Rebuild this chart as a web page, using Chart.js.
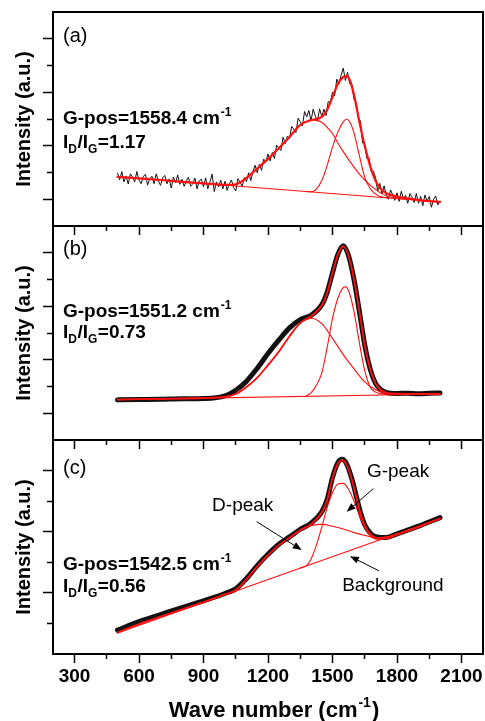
<!DOCTYPE html>
<html>
<head>
<meta charset="utf-8">
<script src="https://cdn.jsdelivr.net/npm/chart.js@4.4.1/dist/chart.umd.min.js"></script>
<style>
  body { margin: 0; background: #fff; }
  #wrap { position: relative; width: 485px; height: 721px; background: #fff; }
  #wrap canvas { position: absolute; left: 0; }
</style>
</head>
<body>
<div id="wrap">
  <canvas id="panelA" width="485" height="236" style="top:0px"></canvas>
  <canvas id="panelB" width="485" height="234" style="top:216px"></canvas>
  <canvas id="panelC" width="485" height="291" style="top:430px"></canvas>
</div>
<script>
// ---- panel (a): noisy raw spectrum, sampled every 10 cm-1 from 500 ----
var aRawStart = 500, aRawStep = 10;
var aRaw = [
  19.8,17.3,20.3,16.5,18.6,15.7,19.5,18.3,16.5,20.4,
  17.1,15.8,18.6,19.3,15.3,17.7,18.6,15.8,19.5,16.9,
  15.2,18.0,18.9,15.8,17.6,14.2,18.3,16.2,19.1,15.6,
  17.5,14.8,16.7,18.3,14.9,15.7,17.9,13.9,16.9,17.5,
  14.7,18.0,13.9,16.4,19.4,12.9,16.5,14.6,17.1,13.9,
  16.7,13.3,15.8,17.2,14.4,13.1,17.7,16.3,14.9,18.1,
  16.6,19.9,17.0,20.4,22.7,19.9,23.0,20.8,25.0,24.0,
  26.9,24.3,27.5,25.2,30.2,29.2,28.2,33.2,30.8,33.6,
  32.7,37.2,36.2,34.9,40.3,39.0,37.4,42.8,40.8,43.2,
  39.3,43.7,41.2,39.2,43.8,40.9,43.7,41.3,46.5,46.2,
  50.0,48.7,54.9,53.1,56.4,59.0,54.4,57.5,53.2,53.0,
  47.3,46.3,40.6,39.2,31.0,30.4,25.2,25.4,20.4,20.5,
  18.2,13.0,15.9,12.0,15.0,11.6,10.0,13.5,11.6,9.6,
  12.4,9.2,13.0,10.2,11.5,8.5,12.1,10.8,8.8,12.1,
  8.5,11.1,7.6,11.6,9.3,11.0,7.0,10.0,11.2,7.9,
  9.3
];
var aFitWave = [500,600,700,800,900,1000,1050,1100,1150,1200,1250,1300,1350,1400,1450,1475,1500,1525,1550,1565,1580,1600,1625,1650,1675,1700,1725,1750,1800,1850,1900,1950,2000];
var aFitVal  = [18.4,17.8,17.2,16.5,15.9,15.4,15.6,18.0,21.5,25.1,29.1,33.3,37.8,39.6,40.8,43.4,48.2,53.1,55.7,56.0,54.6,49.0,39.0,29.9,22.5,17.0,13.8,12.3,11.0,10.3,9.7,9.3,9.0];
var aDWave = [1300,1350,1375,1400,1425,1450,1475,1500,1525,1550,1575,1600,1625,1650,1675,1700,1725,1750,1800,1850];
var aDVal  = [33.3,37.8,39.0,39.6,39.5,38.8,36.9,34.6,31.0,27.8,24.8,22.0,19.4,17.2,15.3,13.7,12.3,11.3,10.4,10.0];
var aGWave = [1375,1400,1425,1450,1475,1500,1525,1550,1565,1580,1600,1625,1650,1675,1700,1725,1750];
var aGVal  = [12.9,12.8,13.8,17.0,22.6,29.5,35.1,38.9,39.9,39.0,34.8,26.3,18.2,14.0,12.0,10.9,10.6];
var aBgWave = [500,2000];
var aBgVal  = [18.4,9.0];

// ---- panel (b) ----
var bDataWave = [500,600,700,800,900,1000,1050,1100,1150,1200,1250,1300,1350,1400,1450,1475,1500,1525,1550,1575,1600,1625,1650,1675,1700,1725,1750,1800,1850,1900,1950,2000];
var bDataVal  = [15.0,15.1,15.2,15.4,15.5,16.5,18.6,22.0,26.8,32.3,37.3,41.9,45.0,46.6,50.5,55.2,62.5,69.4,72.6,68.8,60.0,48.1,35.5,26.6,21.2,18.8,17.8,17.4,17.5,17.3,17.5,17.6];
var bFitWave = [500,700,900,1000,1050,1100,1150,1200,1250,1300,1350,1400,1450,1475,1500,1525,1550,1575,1600,1625,1650,1675,1700,1725,1750,1800,1900,2000];
var bFitVal  = [15.1,15.4,15.7,16.2,17.2,19.8,23.3,28.0,33.0,38.8,43.8,46.3,50.3,55.0,62.4,69.3,72.5,68.8,60.0,48.1,35.5,26.6,21.2,18.7,17.7,17.3,17.2,17.2];
var bDWave = [1000,1050,1100,1150,1200,1250,1300,1350,1400,1450,1500,1550,1600,1650,1700,1750,1800];
var bDVal  = [16.2,17.2,19.8,23.3,28.0,33.0,38.8,43.6,45.5,43.5,38.0,31.9,26.6,21.7,18.8,17.5,17.1];
var bGWave = [1375,1400,1425,1450,1475,1500,1525,1550,1560,1575,1600,1625,1650,1675,1700,1750];
var bGVal  = [16.4,17.6,20.5,25.0,34.5,45.5,53.0,57.0,57.3,55.8,48.0,36.4,25.9,19.8,17.9,17.1];
var bBgWave = [500,2000];
var bBgVal  = [15.1,17.2];

// ---- panel (c) ----
var cDataWave = [500,600,700,800,900,1000,1050,1100,1150,1200,1250,1300,1350,1400,1450,1475,1500,1525,1545,1565,1590,1610,1630,1650,1675,1700,1750,1800,1900,2000];
var cDataVal  = [7.8,10.6,12.9,15.2,17.4,19.8,21.3,24.7,28.9,32.6,35.9,38.3,40.8,42.8,46.5,50.5,57.7,62.6,63.7,62.3,57.3,51.8,46.3,42.3,39.6,38.4,38.1,39.3,41.8,44.6];
var cFitWave = cDataWave;
var cFitVal  = [7.0,9.8,12.2,14.6,17.0,19.5,20.9,24.4,28.6,32.3,35.6,38.0,40.5,42.5,46.3,50.3,57.5,62.3,63.4,62.0,57.0,51.5,46.0,42.0,39.3,38.1,37.8,39.0,41.5,44.3];
var cDWave = [1300,1350,1400,1450,1500,1550,1600,1650,1700,1750,1800];
var cDVal  = [38.0,40.5,42.0,42.4,41.8,40.9,39.7,38.8,38.0,38.3,39.3];
var cGWave = [1350,1380,1400,1425,1450,1475,1500,1525,1550,1575,1600,1625,1650,1675,1700,1725,1750];
var cGVal  = [28.1,29.0,31.0,35.6,41.5,47.8,52.8,55.6,55.8,53.8,50.0,45.4,41.5,38.9,37.6,37.5,38.1];
var cBgWave = [500,2000];
var cBgVal  = [6.9,44.3];

var xTickLabels = [300,600,900,1200,1500,1800,2100];

var FONT = '"Liberation Sans", Arial, sans-serif';
var RED = '#ff1010';
Chart.defaults.font.family = FONT;
Chart.defaults.color = '#000';

function pts(wave, val) {
  return wave.map(function(w, i) { return {x: w, y: val[i]}; });
}
function rawPts() {
  return aRaw.map(function(v, i) { return {x: aRawStart + i * aRawStep, y: v}; });
}

// text, labels and arrows drawn on top of each panel
var notesPlugin = {
  id: 'notes',
  afterDatasetsDraw: function(chart, args, o) {
    var ctx = chart.ctx, area = chart.chartArea;
    var sx = chart.scales.x, sy = chart.scales.y;
    ctx.save();
    ctx.fillStyle = '#000';
    var x0 = area.left + 10;

    ctx.font = '20px ' + FONT;
    ctx.textBaseline = 'middle';
    ctx.fillText(o.tag, x0, area.top + o.tagY);

    ctx.textBaseline = 'alphabetic';
    var y = area.top + o.posY;
    var t = 'G-pos=' + o.gpos + ' cm';
    ctx.font = 'bold 19px ' + FONT;
    ctx.fillText(t, x0, y);
    var w = ctx.measureText(t).width;
    ctx.font = 'bold 12px ' + FONT;
    ctx.fillText('-1', x0 + w + 1, y - 8);

    y = area.top + o.ratioY;
    var x = x0;
    [['I', 0], ['D', 1], ['/I', 0], ['G', 1], ['=' + o.ratio, 0]].forEach(function(p) {
      ctx.font = (p[1] ? 'bold 12px ' : 'bold 19px ') + FONT;
      ctx.fillText(p[0], x, p[1] ? y + 5 : y);
      x += ctx.measureText(p[0]).width + (p[1] ? 0.5 : 0);
    });

    (o.callouts || []).forEach(function(c) {
      ctx.font = '19px ' + FONT;
      ctx.fillText(c.text, sx.getPixelForValue(c.at[0]), sy.getPixelForValue(c.at[1]));
      var x1 = sx.getPixelForValue(c.from[0]), y1 = sy.getPixelForValue(c.from[1]);
      var x2 = sx.getPixelForValue(c.to[0]), y2 = sy.getPixelForValue(c.to[1]);
      var ang = Math.atan2(y2 - y1, x2 - x1);
      ctx.strokeStyle = '#000';
      ctx.lineWidth = 1;
      ctx.beginPath();
      ctx.moveTo(x1, y1);
      ctx.lineTo(x2 - 6 * Math.cos(ang), y2 - 6 * Math.sin(ang));
      ctx.stroke();
      ctx.beginPath();
      ctx.moveTo(x2, y2);
      ctx.lineTo(x2 - 9 * Math.cos(ang) + 3.5 * Math.sin(ang), y2 - 9 * Math.sin(ang) - 3.5 * Math.cos(ang));
      ctx.lineTo(x2 - 9 * Math.cos(ang) - 3.5 * Math.sin(ang), y2 - 9 * Math.sin(ang) + 3.5 * Math.cos(ang));
      ctx.closePath();
      ctx.fill();
    });

    if (o.xTitle) {
      var main = 'Wave number (cm', sup = '-1', end = ')';
      ctx.font = 'bold 22px ' + FONT;
      var w1 = ctx.measureText(main).width, w3 = ctx.measureText(end).width;
      ctx.font = 'bold 14px ' + FONT;
      var w2 = ctx.measureText(sup).width;
      var start = (area.left + area.right) / 2 + 6 - (w1 + w2 + w3 + 2) / 2;
      var by = area.bottom + 62.5;
      ctx.font = 'bold 22px ' + FONT;
      ctx.fillText(main, start, by);
      ctx.font = 'bold 14px ' + FONT;
      ctx.fillText(sup, start + w1 + 1, by - 10);
      ctx.font = 'bold 22px ' + FONT;
      ctx.fillText(end, start + w1 + w2 + 2, by);
    }
    ctx.restore();
  }
};

function lineSet(data, color, width, order, smooth) {
  return {
    data: data, borderColor: color, borderWidth: width, order: order,
    pointRadius: 0, fill: false, xAxisID: 'x', yAxisID: 'y',
    cubicInterpolationMode: smooth ? 'monotone' : 'default', tension: 0,
    borderJoinStyle: 'round', borderCapStyle: 'round'
  };
}

function makePanel(id, p) {
  var sets = [
    lineSet(pts(p.fitWave, p.fitVal), RED, p.fitWidth, 1, true),
    lineSet(pts(p.dWave, p.dVal), RED, 1.1, 2, true),
    lineSet(pts(p.gWave, p.gVal), RED, 1.1, 2, true),
    lineSet(pts(p.bgWave, p.bgVal), RED, 1.1, 2, false),
    lineSet(p.raw, '#111', p.rawWidth, 3, p.rawSmooth)
  ];
  new Chart(document.getElementById(id), {
    type: 'line',
    data: { datasets: sets },
    options: {
      responsive: false,
      animation: false,
      events: [],
      layout: { padding: { top: p.padTop, right: 2, left: 0, bottom: 0 }, autoPadding: false },
      plugins: { legend: { display: false }, tooltip: { enabled: false }, notes: p.notes },
      scales: {
        x: {
          type: 'linear', position: 'bottom', min: 200, max: 2200,
          ticks: {
            stepSize: 150, includeBounds: false, autoSkip: false, maxRotation: 0, minRotation: 0,
            display: p.xLabels, padding: 2, color: '#000',
            font: { size: 19, weight: 'bold', family: FONT },
            callback: function(v) { return xTickLabels.indexOf(v) >= 0 ? String(v) : ''; }
          },
          grid: {
            drawOnChartArea: false, drawTicks: true, tickLength: 9, tickWidth: 1.5, tickColor: '#000',
            tickBorderDash: function(c) { return c.tick && xTickLabels.indexOf(c.tick.value) < 0 ? [4, 20] : []; }
          },
          border: { display: true, color: '#000', width: 2 },
          afterFit: function(s) { s.height = p.xHeight; }
        },
        xTop: {
          type: 'linear', position: 'top', min: 200, max: 2200,
          ticks: { display: false }, grid: { display: false, drawTicks: false },
          border: { display: true, color: '#000', width: 2 },
          afterFit: function(s) { s.height = 0; }
        },
        y: {
          type: 'linear', position: 'left', min: 0, max: p.yMax,
          ticks: { stepSize: 10, display: false },
          afterBuildTicks: function(s) {
            s.ticks = s.ticks.filter(function(t) { return t.value > s.min && t.value < s.max; });
          },
          grid: {
            drawOnChartArea: false, drawTicks: true, tickLength: 10, tickWidth: 1.5, tickColor: '#000',
            tickBorderDash: function(c) { return c.tick && !p.yMajor(c.tick.value) ? [6, 4] : []; },
            tickBorderDashOffset: function(c) { return c.tick && !p.yMajor(c.tick.value) ? 6 : 0; }
          },
          border: { display: true, color: '#000', width: 2 },
          title: {
            display: true, text: 'Intensity (a.u.)', color: '#000',
            font: { size: 20, weight: 'bold', family: FONT }, padding: { top: 12, bottom: 0 }
          },
          afterFit: function(s) { s.width = 53; }
        },
        yRight: {
          type: 'linear', position: 'right', min: 0, max: p.yMax,
          ticks: { display: false }, grid: { display: false, drawTicks: false },
          border: { display: true, color: '#000', width: 2 },
          afterFit: function(s) { s.width = 0; }
        }
      }
    },
    plugins: [notesPlugin]
  });
}

makePanel('panelA', {
  fitWave: aFitWave, fitVal: aFitVal, dWave: aDWave, dVal: aDVal, gWave: aGWave, gVal: aGVal,
  bgWave: aBgWave, bgVal: aBgVal, raw: rawPts(), rawWidth: 1, rawSmooth: false, fitWidth: 2.2,
  padTop: 12, xHeight: 10, xLabels: false, yMax: 80,
  yMajor: function(v) { return v % 20 === 10; },
  notes: { tag: '(a)', tagY: 24, gpos: '1558.4', posY: 112, ratio: '1.17', ratioY: 135.5 }
});
makePanel('panelB', {
  fitWave: bFitWave, fitVal: bFitVal, dWave: bDWave, dVal: bDVal, gWave: bGWave, gVal: bGVal,
  bgWave: bBgWave, bgVal: bBgVal, raw: pts(bDataWave, bDataVal), rawWidth: 5, rawSmooth: true, fitWidth: 1.8,
  padTop: 10, xHeight: 10, xLabels: false, yMax: 80,
  yMajor: function(v) { return v % 20 === 10; },
  notes: { tag: '(b)', tagY: 23, gpos: '1551.2', posY: 91, ratio: '0.73', ratioY: 111.5 }
});
makePanel('panelC', {
  fitWave: cFitWave, fitVal: cFitVal, dWave: cDWave, dVal: cDVal, gWave: cGWave, gVal: cGVal,
  bgWave: cBgWave, bgVal: cBgVal, raw: pts(cDataWave, cDataVal), rawWidth: 5, rawSmooth: true, fitWidth: 1.8,
  padTop: 10, xHeight: 67, xLabels: true, yMax: 70,
  yMajor: function(v) { return v % 20 === 0; },
  notes: {
    tag: '(c)', tagY: 28.5, gpos: '1542.5', posY: 129.5, ratio: '0.56', ratioY: 151.5, xTitle: true,
    callouts: [
      { text: 'D-peak', at: [940, 46.8], from: [1147, 43.3], to: [1357, 34.0] },
      { text: 'G-peak', at: [1660, 57.9], from: [1690, 54.1], to: [1566, 46.5] },
      { text: 'Background', at: [1545, 20.7], from: [1716, 27.2], to: [1581, 32.0] }
    ]
  }
});
</script>
</body>
</html>
